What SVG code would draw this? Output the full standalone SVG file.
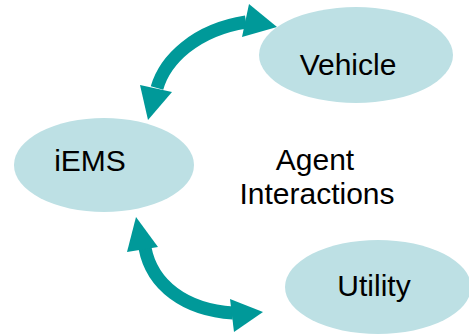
<svg xmlns="http://www.w3.org/2000/svg" width="469" height="335" viewBox="0 0 469 335">
<style>
.node{fill:#BDE0E4;stroke:none}
.lbl{font-family:"Liberation Sans",Arial,sans-serif;font-size:30px;fill:#000;text-anchor:middle}
.shaft{fill:none;stroke:#009999;stroke-width:13}
.head{fill:#009999;stroke:none}
</style>
<rect width="469" height="335" fill="#fff"/>
<g id="connectors">
<path class="shaft" d="M157 88 C165 60 195 30 246 22"/>
<polygon class="head" points="277,27 249,4 242,37"/>
<polygon class="head" points="148,120 140,85 172,92"/>
<path class="shaft" d="M145 248 C152 285 185 310 233 313"/>
<polygon class="head" points="136,217 127,252 158,247"/>
<polygon class="head" points="263,312 230,299 234,332"/>
</g>
<g id="vehicle">
<ellipse class="node" cx="356" cy="55" rx="97" ry="48"/>
<text class="lbl" x="348" y="75">Vehicle</text>
</g>
<g id="iems">
<ellipse class="node" cx="104" cy="165" rx="90" ry="47"/>
<text class="lbl" x="90" y="171">iEMS</text>
</g>
<g id="utility">
<ellipse class="node" cx="378" cy="287" rx="93" ry="47"/>
<text class="lbl" x="374" y="296">Utility</text>
</g>
<g id="title">
<text class="lbl" x="315" y="170">Agent</text>
<text class="lbl" x="317" y="204">Interactions</text>
</g>
</svg>
